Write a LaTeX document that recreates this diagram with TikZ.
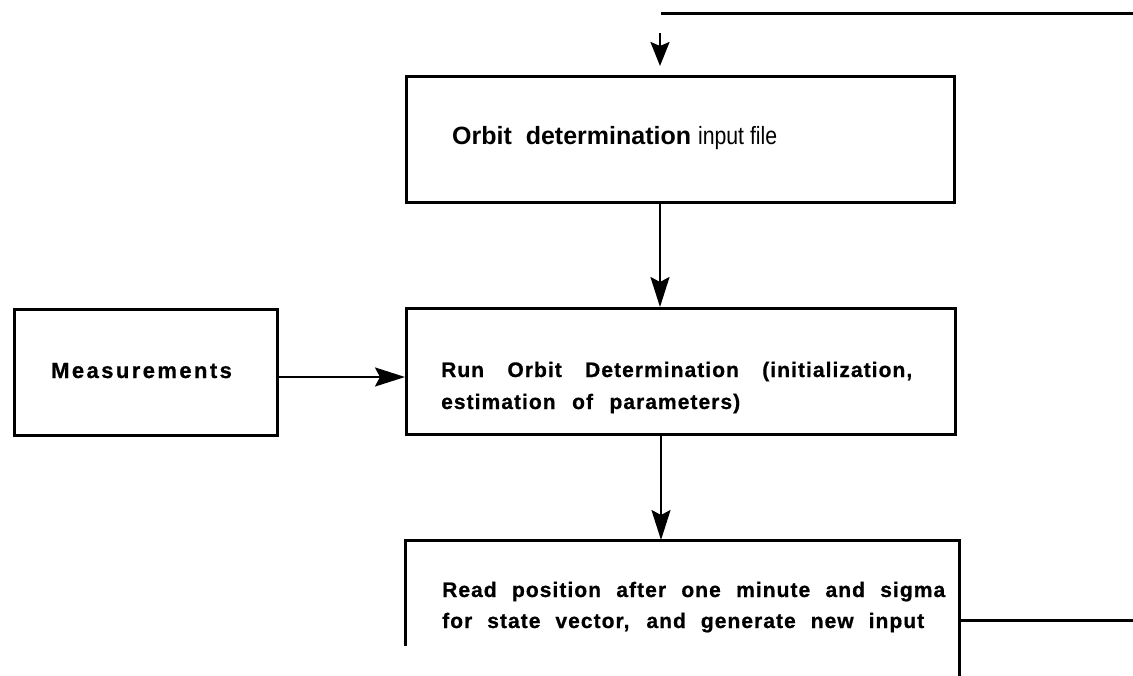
\documentclass[tikz,border=0pt]{standalone}
\usepackage{fontspec}
\usepackage{graphicx}
\setmainfont{Liberation Sans}
\newfontfamily\spacedfont[LetterSpace=5, BoldFeatures={FakeBold=0.8}]{Liberation Sans}
\usepackage{tikz}
\usetikzlibrary{arrows.meta, calc}
\tikzset{
  frame/.style ={draw, line width=3pt},
  blk/.style   ={frame, rectangle, inner sep=0pt, anchor=north west},
  lbl/.style   ={anchor=base west, inner sep=0pt, align=left},
  ar/.style    ={-{Stealth[length=30pt, width=19pt, inset=5pt]}, line width=2.3pt},
  wire/.style  ={line width=3pt},
}

\begin{document}
\begin{tikzpicture}[x=1pt, y=-1pt]
\useasboundingbox (0,0) rectangle (1133,675);
% boxes
\node[blk, minimum width=548pt, minimum height=126pt] (odin) at (405,75) {};
\node[blk, minimum width=263pt, minimum height=126pt] (meas) at (13,308) {};
\node[blk, minimum width=549pt, minimum height=126pt] (odrun) at (405,307) {};
\node[blk, draw=none, minimum width=551pt, minimum height=135pt] (readpos) at (405,540) {};
\draw[frame] ([yshift=32pt]readpos.south west) -- (readpos.north west)
  -- (readpos.north east) -- (readpos.south east);
% box texts (base = last line)
\node[lbl, font=\fontsize{25}{30}\selectfont] (odin-t) at ($(odin.north west)+(47,69)$)
  {\textbf{Orbit\ \ determination} \scalebox{0.85}[1]{input file}};
\node[lbl, font=\spacedfont\bfseries\fontsize{22}{25}\selectfont\addfontfeature{LetterSpace=11}]
  (meas-t) at ($(meas.north west)+(38,70)$) {Measurements};
\node[lbl, font=\spacedfont\bfseries\fontsize{21}{32}\selectfont] (odrun-t) at ($(odrun.north west)+(36,102)$)
  {\makebox[471pt][s]{Run Orbit Determination (initialization,}\\
   \makebox[299pt][s]{estimation of parameters)}};
\node[lbl, font=\spacedfont\bfseries\fontsize{21}{31}\selectfont] (readpos-t) at ($(readpos.north west)+(37,88)$)
  {\makebox[503pt][s]{Read position after one minute and sigma}\\
   \makebox[482pt][s]{for state vector, and generate new input}};
% connectors
\coordinate (axis) at (660,0);
\coordinate (feed) at (0,377);
\coordinate (intail) at (660,33);
\coordinate (inhead) at (660,66);
\coordinate (ret-a) at (661,13);
\coordinate (ret-b) at (1133,13);
\coordinate (out) at (1133,620);
\draw[wire] (ret-a) -- (ret-b);
\draw[ar, -{Stealth[length=24pt, width=19pt, inset=4pt]}] (intail) -- (inhead);
\draw[ar] (odin.south -| axis) -- (odrun.north -| axis);
\draw[ar] (meas.east |- feed) -- (odrun.west |- feed);
\draw[ar] ([xshift=1pt]odrun.south -| axis) -- ([xshift=1pt]readpos.north -| axis);
\draw[wire] (readpos.east |- out) -- (out);
\end{tikzpicture}
\end{document}
